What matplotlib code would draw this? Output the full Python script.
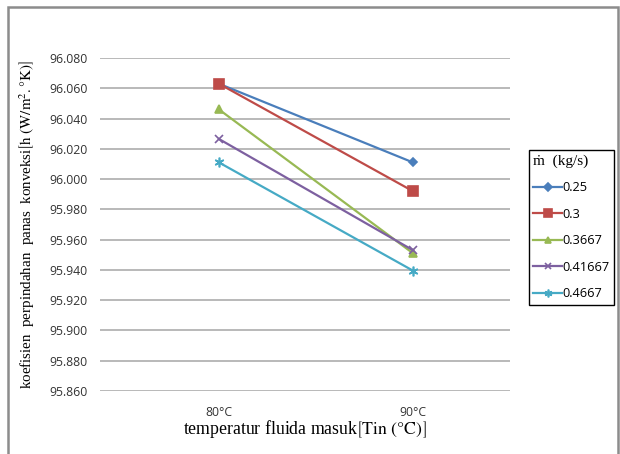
import matplotlib.pyplot as plt
from matplotlib.patches import Rectangle

# -------------------- data --------------------
categories = ["80°C", "90°C"]
flow_labels = ["0.25", "0.3", "0.3667", "0.41667", "0.4667"]
h_025 = [96.063, 96.011]
h_030 = [96.063, 95.992]
h_03667 = [96.046, 95.951]
h_041667 = [96.0265, 95.953]
h_04667 = [96.011, 95.9395]
yticks = [95.860, 95.880, 95.900, 95.920, 95.940, 95.960,
          95.980, 96.000, 96.020, 96.040, 96.060, 96.080]

series = [h_025, h_030, h_03667, h_041667, h_04667]
colors = ["#4A7EBB", "#BE4B48", "#98B954", "#7D60A0", "#46AAC5"]
markers = ["D", "s", "^", "x", (6, 2, 0)]
msizes = [4.5, 6.5, 6, 6, 7]

plt.rcParams["mathtext.fontset"] = "stix"

fig = plt.figure(figsize=(6.2, 4.54), dpi=100)
ax = fig.add_axes([100 / 620, 1 - 391 / 454, 410 / 620, 333 / 454])

xs = list(range(len(categories)))
for vals, lab, c, m, ms in zip(series, flow_labels, colors, markers, msizes):
    ax.plot(xs, vals, color=c, lw=1.6, marker=m, ms=ms, mew=1.2,
            mfc=c, mec=c, label=lab)

ax.set_xlim(-0.613, 1.5)
ax.set_ylim(95.860, 96.080)
ax.set_yticks(yticks)
ax.set_yticklabels([f"{v:.3f}" for v in yticks], fontsize=8.8,
                   family="Open Sans", color="#333333")
ax.set_xticks(xs)
ax.set_xticklabels(categories, fontsize=8.8, family="Open Sans", color="#333333")
ax.tick_params(length=0, pad=9)
ax.tick_params(axis="x", pad=11)
ax.grid(axis="y", color="#A6A6A6", lw=1.1)
ax.set_axisbelow(True)
for s in ax.spines.values():
    s.set_visible(False)

ax.set_ylabel(r"koefisien  perpindahan  panas  konveksi$\left[\mathrm{h\ (W/m^2.°K)}\right]$",
              family="Liberation Serif", fontsize=10.8, labelpad=9)
ax.set_xlabel(r"temperatur fluida masuk$\left[\mathrm{Tin\ (°C)}^{ }_{ }\right]$",
              family="Liberation Serif", fontsize=12.8, labelpad=0)

leg = fig.legend(loc="upper left", bbox_to_anchor=(529 / 620, 1 - 150 / 454),
                 title="ṁ  (kg/s)", alignment="left", fancybox=False,
                 edgecolor="black", framealpha=1, handlelength=2.2,
                 handletextpad=0.1, borderaxespad=0, borderpad=0.35,
                 labelspacing=1.05, markerscale=0.8,
                 prop={"family": "Open Sans", "size": 9.2})
leg.get_title().set_fontfamily("Liberation Serif")
leg.get_title().set_fontsize(11)
leg.get_frame().set_linewidth(1.0)

# outer chart frame
fig.patches.append(Rectangle((8 / 620, -0.01), 610 / 620, 1 - 7 / 454 + 0.01,
                             transform=fig.transFigure, fill=False,
                             edgecolor="#8C8C8C", lw=1.8))

fig.savefig("out.png", dpi=100)
